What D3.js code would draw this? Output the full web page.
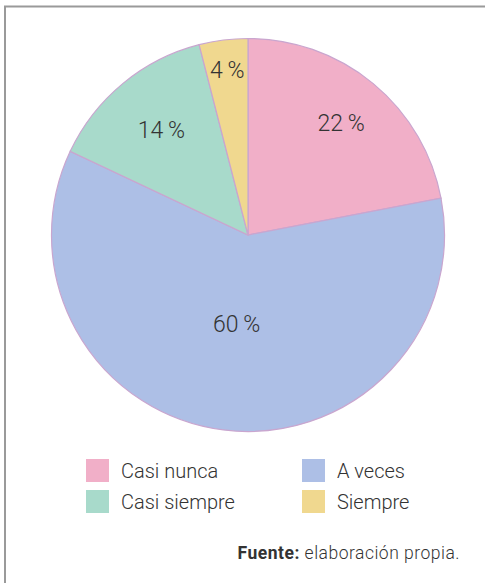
<!DOCTYPE html>
<html>
<head>
<meta charset="utf-8">
<script src="https://cdn.jsdelivr.net/npm/d3@7"></script>
<style>
  html, body { margin: 0; padding: 0; background: #fff; }
  svg { display: block; }
  text { font-family: Roboto, "Liberation Sans", sans-serif; fill: #333; }
</style>
</head>
<body>
<svg id="chart" width="486" height="583"></svg>
<script>
// Survey answers and their shares (%)
const categories = ["Casi nunca", "A veces", "Casi siempre", "Siempre"];
const values = [22, 60, 14, 4];
const colors = ["#f1afc8", "#adbfe6", "#a8dacb", "#f0d88f"];
const source = ["Fuente:", " elaboración propia."];

const svg = d3.select("#chart");

// Frame: top and left rules only
svg.append("path")
  .attr("d", "M5,583 V6.5 H485")
  .attr("fill", "none")
  .attr("stroke", "#9a9a9a")
  .attr("stroke-width", 2);

const cx = 248, cy = 235, R = 196.5;
const g = svg.append("g").attr("transform", `translate(${cx},${cy})`);

const pie = d3.pie().sort(null).value(d => d.v);
const data = categories.map((c, i) => ({ c, v: values[i], col: colors[i] }));
const arcs = pie(data);

const arc = d3.arc().innerRadius(0).outerRadius(R);

g.selectAll("path.slice")
  .data(arcs)
  .join("path")
  .attr("class", "slice")
  .attr("d", arc)
  .attr("fill", d => d.data.col)
  .attr("stroke", "#c9a6cf")
  .attr("stroke-width", 1.2);

// Label distance from centre per slice (smaller slices pushed outward)
const labelRadius = [146, 90, 136, 166];
g.selectAll("text.pct")
  .data(arcs)
  .join("text")
  .attr("class", "pct")
  .attr("transform", (d, i) => {
    const a = (d.startAngle + d.endAngle) / 2;
    const r = labelRadius[i];
    return `translate(${r * Math.sin(a)},${-r * Math.cos(a)})`;
  })
  .attr("text-anchor", "middle")
  .attr("dy", "0.35em")
  .attr("font-size", 23)
  .attr("font-weight", 300)
  .text(d => d.data.v + "\u2009%");

// Legend: two columns, two rows
const legend = svg.append("g");
const colX = [86, 302], rowY = [459, 490];
data.forEach((d, i) => {
  const col = i % 2, row = Math.floor(i / 2);
  const item = legend.append("g")
    .attr("transform", `translate(${colX[col]},${rowY[row]})`);
  item.append("rect")
    .attr("width", 23).attr("height", 23)
    .attr("fill", d.col);
  item.append("text")
    .attr("x", 35).attr("y", 18.5)
    .attr("font-size", 20)
    .attr("font-weight", 300)
    .text(d.c);
});

// Source note
const note = svg.append("text")
  .attr("x", 460).attr("y", 559)
  .attr("text-anchor", "end")
  .attr("font-size", 17.5)
  .attr("letter-spacing", 0.5);
note.append("tspan").attr("font-weight", 700).text(source[0]);
note.append("tspan").attr("font-weight", 300).text(source[1]);
</script>
</body>
</html>
